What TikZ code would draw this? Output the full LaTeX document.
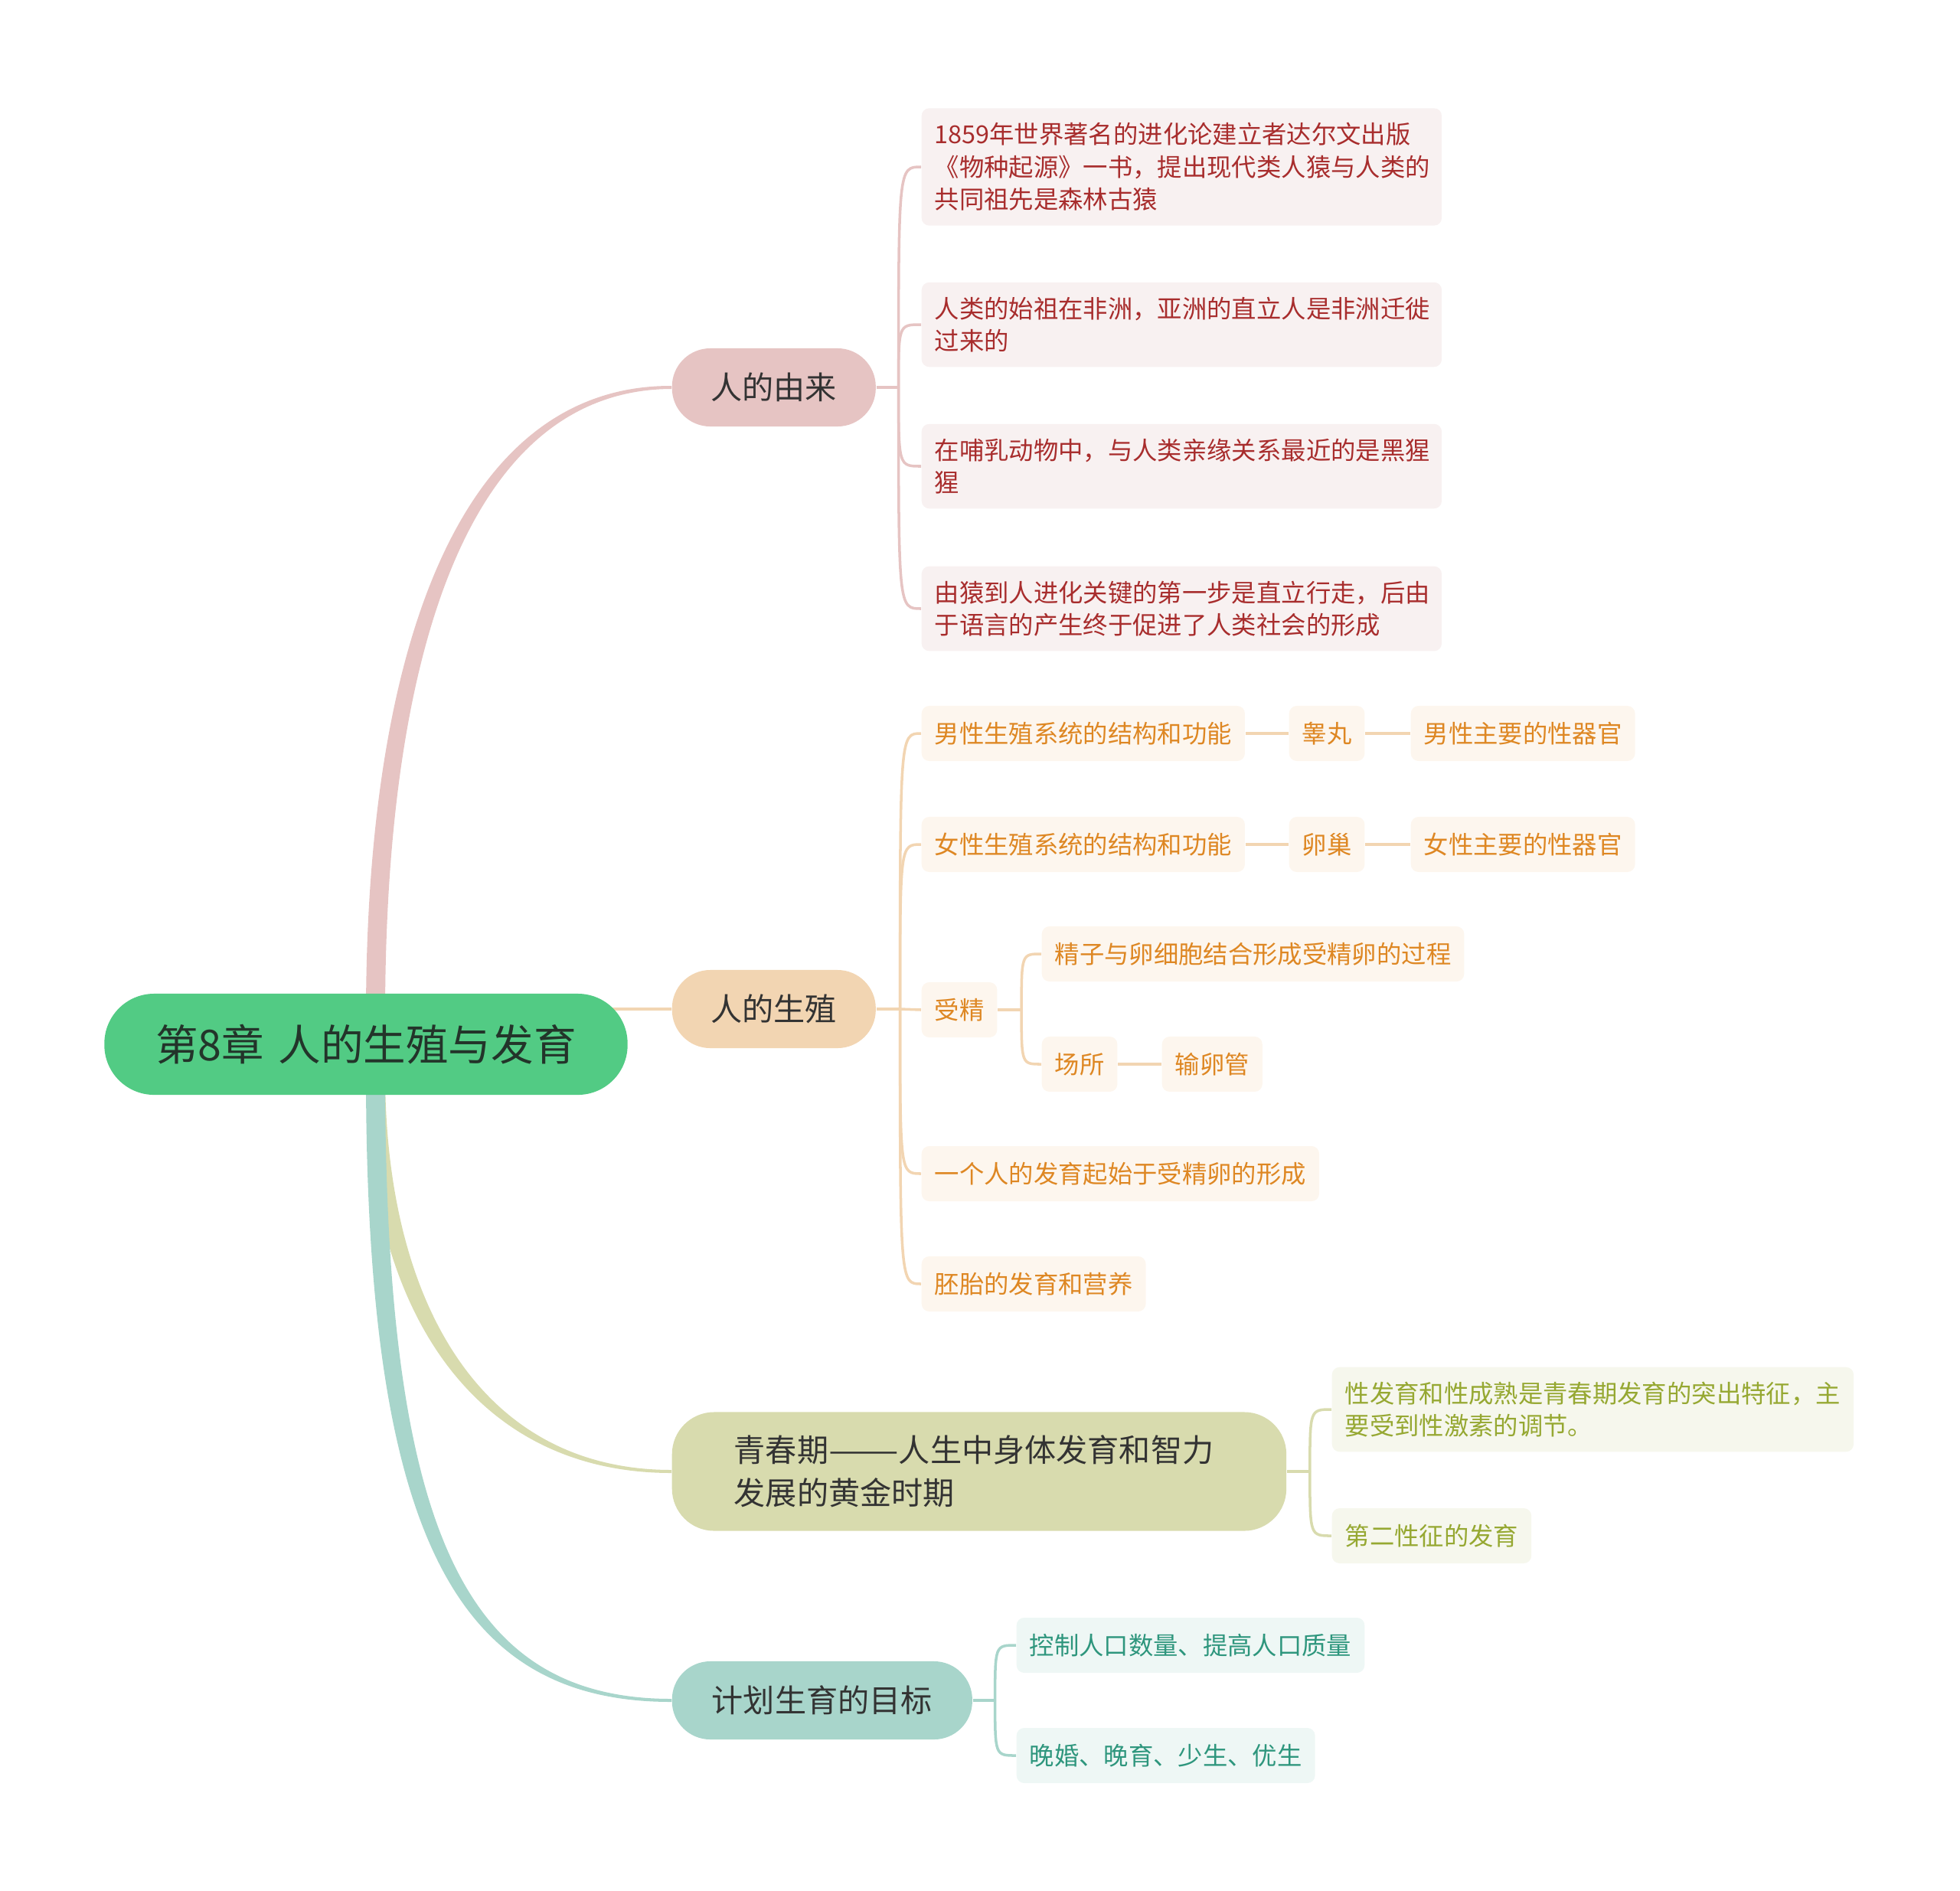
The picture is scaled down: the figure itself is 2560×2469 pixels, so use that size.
\documentclass[tikz,border=0pt]{standalone}
\usepackage{fontspec}
\setmainfont{Noto Sans CJK SC}
\usepackage{tikz}
\usetikzlibrary{positioning,calc,backgrounds}
\usepackage{xcolor}
\definecolor{rootgreen}{RGB}{82,203,132}
\definecolor{rootink}{RGB}{35,52,42}
\definecolor{topicink}{RGB}{51,51,51}
\definecolor{pinkc}{RGB}{230,196,195}
\definecolor{pinkbg}{RGB}{248,241,241}
\definecolor{pinkink}{RGB}{168,45,45}
\definecolor{orangec}{RGB}{242,213,178}
\definecolor{orangebg}{RGB}{253,246,238}
\definecolor{orangeink}{RGB}{222,135,35}
\definecolor{olivec}{RGB}{216,219,174}
\definecolor{olivebg}{RGB}{246,247,237}
\definecolor{oliveink}{RGB}{150,168,50}
\definecolor{tealc}{RGB}{168,213,203}
\definecolor{tealbg}{RGB}{238,247,245}
\definecolor{tealink}{RGB}{46,150,125}
\tikzset{
    rootbox/.style={fill=rootgreen, text=rootink, rounded corners=0.65cm,
                    minimum width=6.83cm, minimum height=1.32cm,
                    font=\fontsize{15.8}{19}\selectfont},
    topic/.style={fill=#1, text=topicink, rounded corners=0.5cm,
                  minimum height=1.02cm, inner xsep=0.5cm, anchor=west,
                  font=\fontsize{11.7}{15.9}\selectfont},
    leaf/.style 2 args={fill=#1, text=#2, rounded corners=0.1cm,
                        minimum height=0.72cm, inner xsep=0.17cm, inner ysep=0.19cm,
                        align=left, anchor=west,
                        font=\fontsize{9.2}{12.1}\selectfont},
}

\begin{document}
\begin{tikzpicture}[
    x=0.01cm, y=-0.01cm,
    brl/.style={draw=#1, line width=1pt},
    trunk/.style={fill=#1, draw=none}
]
    \useasboundingbox (0,0) rectangle (2560,2469);

    % centre and main topics
    \node[rootbox] (root) at (478,1364) {第8章\hspace{0.33em}人的生殖与发育};
    \node[topic=pinkc, minimum width=2.66cm] (yl) at (877,506) {人的由来};
    \node[topic=orangec, minimum width=2.66cm] (sz) at (877,1318) {人的生殖};
    \node[topic=olivec, rounded corners=0.55cm, minimum height=1.55cm, inner xsep=0.81cm,
          text width=6.4cm, align=left] (qc) at (877,1922)
        {青春期\scalebox{1.33}[1]{——}人生中身体发育和智力\\发展的黄金时期};
    \node[topic=tealc, minimum width=3.92cm] (jh) at (877,2221) {计划生育的目标};

    % 人的由来
    \node[leaf={pinkbg}{pinkink}, text width=6.45cm] (yl1) at (1203,218)
        {1859年世界著名的进化论建立者达尔文出版\\《物种起源》一书，提出现代类人猿与人类的\\共同祖先是森林古猿};
    \node[leaf={pinkbg}{pinkink}, text width=6.45cm] (yl2) at (1203,424)
        {人类的始祖在非洲，亚洲的直立人是非洲迁徙\\过来的};
    \node[leaf={pinkbg}{pinkink}, text width=6.45cm] (yl3) at (1203,609)
        {在哺乳动物中，与人类亲缘关系最近的是黑猩\\猩};
    \node[leaf={pinkbg}{pinkink}, text width=6.45cm] (yl4) at (1203,795)
        {由猿到人进化关键的第一步是直立行走，后由\\于语言的产生终于促进了人类社会的形成};

    % 人的生殖
    \node[leaf={orangebg}{orangeink}] (sz1) at (1203,958) {男性生殖系统的结构和功能};
    \node[leaf={orangebg}{orangeink}] (sz1a) at (1683,958) {睾丸};
    \node[leaf={orangebg}{orangeink}] (sz1b) at (1842,958) {男性主要的性器官};
    \node[leaf={orangebg}{orangeink}] (sz2) at (1203,1103) {女性生殖系统的结构和功能};
    \node[leaf={orangebg}{orangeink}] (sz2a) at (1683,1103) {卵巢};
    \node[leaf={orangebg}{orangeink}] (sz2b) at (1842,1103) {女性主要的性器官};
    \node[leaf={orangebg}{orangeink}] (sz3) at (1203,1319) {受精};
    \node[leaf={orangebg}{orangeink}] (sz3a) at (1360,1246) {精子与卵细胞结合形成受精卵的过程};
    \node[leaf={orangebg}{orangeink}] (sz3b) at (1360,1390) {场所};
    \node[leaf={orangebg}{orangeink}] (sz3c) at (1517,1390) {输卵管};
    \node[leaf={orangebg}{orangeink}] (sz4) at (1203,1533) {一个人的发育起始于受精卵的形成};
    \node[leaf={orangebg}{orangeink}] (sz5) at (1203,1677) {胚胎的发育和营养};

    % 青春期
    \node[leaf={olivebg}{oliveink}, text width=6.47cm] (qc1) at (1739,1841)
        {性发育和性成熟是青春期发育的突出特征，主\\要受到性激素的调节。};
    \node[leaf={olivebg}{oliveink}] (qc2) at (1739,2006) {第二性征的发育};

    % 计划生育
    \node[leaf={tealbg}{tealink}] (jh1) at (1327,2149) {控制人口数量、提高人口质量};
    \node[leaf={tealbg}{tealink}] (jh2) at (1327,2293) {晚婚、晚育、少生、优生};

    \begin{scope}[on background layer]
        % tapered trunks out of the centre
        \fill[trunk=pinkc] ($(root.north)+(0,30)$)
            .. controls ($(root.north)+(0,-450)$) and ($(yl.west)+(-277,-3)$) .. ($(yl.west)+(0,-2)$)
            -- ($(yl.west)+(0,2)$)
            .. controls ($(yl.west)+(-267,3)$) and ($(root.north)+(25,-440)$) .. ($(root.north)+(25,30)$)
            -- cycle;
        \draw[brl=orangec, line width=1.2pt] (root.center |- sz.west) -- (sz.west);
        \fill[trunk=olivec] ($(root.south)+(0,-30)$)
            .. controls ($(root.south)+(0,275)$) and ($(qc.west)+(-262,2)$) .. ($(qc.west)+(0,2)$)
            -- ($(qc.west)+(0,-2)$)
            .. controls ($(qc.west)+(-252,-2)$) and ($(root.south)+(25,265)$) .. ($(root.south)+(25,-30)$)
            -- cycle;
        \fill[trunk=tealc] ($(root.south)+(0,-30)$)
            .. controls ($(root.south)+(0,575)$) and ($(jh.west)+(-282,2)$) .. ($(jh.west)+(0,2)$)
            -- ($(jh.west)+(0,-2)$)
            .. controls ($(jh.west)+(-272,-2)$) and ($(root.south)+(25,565)$) .. ($(root.south)+(25,-30)$)
            -- cycle;

        % brackets
        \draw[brl=pinkc] (yl.east) -- ++(29,0) coordinate (ylS);
        \draw[brl=pinkc] (ylS) .. controls (ylS |- yl1.west) .. (yl1.west);
        \draw[brl=pinkc] (ylS) .. controls (ylS |- yl2.west) .. (yl2.west);
        \draw[brl=pinkc] (ylS) .. controls (ylS |- yl3.west) .. (yl3.west);
        \draw[brl=pinkc] (ylS) .. controls (ylS |- yl4.west) .. (yl4.west);

        \draw[brl=orangec] (sz.east) -- ++(31,0) coordinate (szS);
        \draw[brl=orangec] (szS) .. controls (szS |- sz1.west) .. (sz1.west);
        \draw[brl=orangec] (szS) .. controls (szS |- sz2.west) .. (sz2.west);
        \draw[brl=orangec] (szS) -- (sz3.west);
        \draw[brl=orangec] (szS) .. controls (szS |- sz4.west) .. (sz4.west);
        \draw[brl=orangec] (szS) .. controls (szS |- sz5.west) .. (sz5.west);
        \draw[brl=orangec] (sz1.east) -- (sz1a.west);
        \draw[brl=orangec] (sz1a.east) -- (sz1b.west);
        \draw[brl=orangec] (sz2.east) -- (sz2a.west);
        \draw[brl=orangec] (sz2a.east) -- (sz2b.west);
        \draw[brl=orangec] (sz3.east) -- ++(31,0) coordinate (sz3S);
        \draw[brl=orangec] (sz3S) .. controls (sz3S |- sz3a.west) .. (sz3a.west);
        \draw[brl=orangec] (sz3S) .. controls (sz3S |- sz3b.west) .. (sz3b.west);
        \draw[brl=orangec] (sz3b.east) -- (sz3c.west);

        \draw[brl=olivec] (qc.east) -- ++(30,0) coordinate (qcS);
        \draw[brl=olivec] (qcS) .. controls (qcS |- qc1.west) .. (qc1.west);
        \draw[brl=olivec] (qcS) .. controls (qcS |- qc2.west) .. (qc2.west);

        \draw[brl=tealc] (jh.east) -- ++(29,0) coordinate (jhS);
        \draw[brl=tealc] (jhS) .. controls (jhS |- jh1.west) .. (jh1.west);
        \draw[brl=tealc] (jhS) .. controls (jhS |- jh2.west) .. (jh2.west);
    \end{scope}
\end{tikzpicture}
\end{document}
